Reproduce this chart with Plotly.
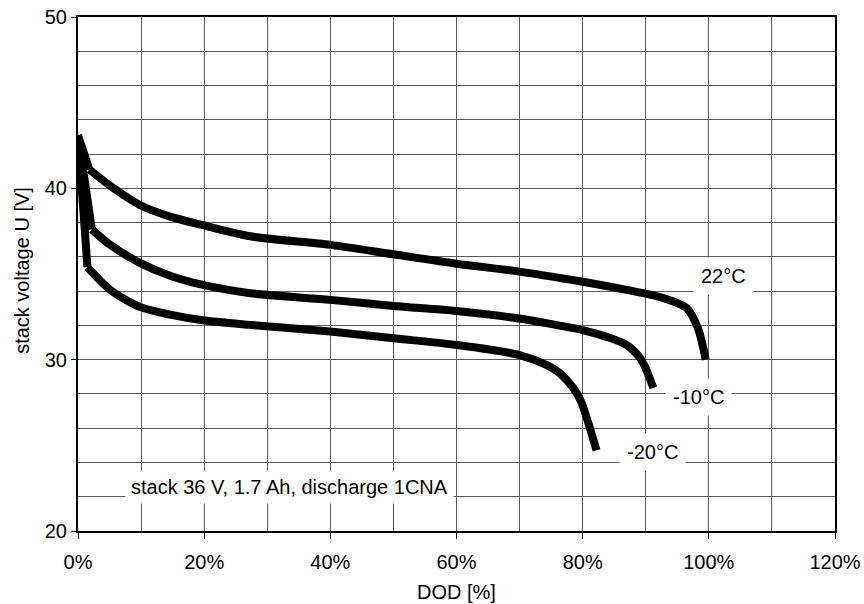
import plotly.graph_objects as go

# ---- data ----
dod_22 = [0, 1.8, 5.1, 9.8, 14.6, 19.8, 27.3, 40, 50, 60, 70, 76.4, 80, 87, 92.2, 96.5, 98.3, 99.5]
u_22 = [43.1, 41.1, 40.15, 39.03, 38.35, 37.85, 37.2, 36.7, 36.15, 35.6, 35.14, 34.77, 34.55, 34.07, 33.66, 33.0, 31.8, 30.0]

dod_m10 = [0, 2.2, 5.1, 9.8, 14.6, 19.8, 27.3, 40, 50, 60, 70, 73.2, 80, 83.8, 87, 89, 89.9, 91.2]
u_m10 = [43.1, 37.6, 36.7, 35.65, 34.9, 34.36, 33.88, 33.49, 33.13, 32.84, 32.4, 32.2, 31.73, 31.33, 30.85, 30.15, 29.57, 28.35]

dod_m20 = [0, 1.5, 5.1, 9.8, 14.6, 19.8, 27.3, 40, 50, 60, 70, 74.5, 76.4, 78.5, 79.7, 82.2]
u_m20 = [43.1, 35.4, 34.07, 33.08, 32.63, 32.3, 32.03, 31.64, 31.25, 30.86, 30.27, 29.65, 29.2, 28.35, 27.6, 24.7]

series_names = ["22°C", "-10°C", "-20°C"]
label_pos = [(102.4, 34.9), (98.4, 27.8), (91.0, 24.6)]
note_text = "stack 36 V, 1.7 Ah, discharge 1CNA"
x_ticks = [0, 20, 40, 60, 80, 100, 120]
x_tick_text = ["0%", "20%", "40%", "60%", "80%", "100%", "120%"]
y_ticks = [20, 30, 40, 50]
x_title = "DOD [%]"
y_title = "stack voltage U [V]"

FONT = "Liberation Sans, Arial, sans-serif"
FS = 20

fig = go.Figure()
for xs, ys, nm in [(dod_22, u_22, series_names[0]),
                   (dod_m10, u_m10, series_names[1]),
                   (dod_m20, u_m20, series_names[2])]:
    # sharp initial drop (straight), then the smooth discharge curve
    fig.add_trace(go.Scatter(x=xs[:2], y=ys[:2], mode="lines", name=nm,
                             line=dict(color="black", width=8),
                             showlegend=False))
    fig.add_trace(go.Scatter(x=xs[1:], y=ys[1:], mode="lines", name=nm,
                             line=dict(color="black", width=8, shape="spline",
                                       smoothing=0.8),
                             showlegend=False))

for nm, (lx, ly) in zip(series_names, label_pos):
    fig.add_annotation(x=lx, y=ly, text=nm, showarrow=False,
                       xref="x", yref="y", bgcolor="white", borderpad=7,
                       font=dict(family=FONT, size=FS, color="black"))

fig.add_annotation(x=7.4, y=22.55, text=note_text, showarrow=False,
                   xref="x", yref="y", xanchor="left", bgcolor="white",
                   borderpad=5, font=dict(family=FONT, size=FS, color="black"))

# axis titles placed directly
fig.add_annotation(x=0.5, y=-0.119, xref="paper", yref="paper",
                   text=x_title, showarrow=False, yanchor="middle",
                   font=dict(family=FONT, size=FS, color="black"))
fig.add_annotation(x=-0.074, y=0.508, xref="paper", yref="paper",
                   text=y_title, showarrow=False, textangle=-90,
                   xanchor="center", yanchor="middle",
                   font=dict(family=FONT, size=FS, color="black"))

grid_col = "#5a5a5a"
fig.update_xaxes(range=[0, 120], tickvals=x_ticks, ticktext=x_tick_text,
                 ticks="outside", ticklen=6, tickcolor="black",
                 ticklabelstandoff=6, automargin=False,
                 showline=True, linecolor="black", linewidth=2, mirror=True,
                 showgrid=True, gridcolor=grid_col, gridwidth=1,
                 minor=dict(dtick=10, showgrid=True, gridcolor=grid_col, gridwidth=1),
                 zeroline=False,
                 tickfont=dict(family=FONT, size=FS, color="black"))
fig.update_yaxes(range=[20, 50], tickvals=y_ticks,
                 ticks="outside", ticklen=5, tickcolor="black",
                 automargin=False,
                 showline=True, linecolor="black", linewidth=2, mirror=True,
                 showgrid=True, gridcolor=grid_col, gridwidth=1,
                 minor=dict(dtick=2, showgrid=True, gridcolor=grid_col, gridwidth=1),
                 zeroline=False,
                 tickfont=dict(family=FONT, size=FS, color="black"))

fig.update_layout(width=864, height=604,
                  margin=dict(l=78, r=29, t=17, b=73),
                  plot_bgcolor="white", paper_bgcolor="white",
                  font=dict(family=FONT, size=FS, color="black"))

fig.write_html("out.html")
